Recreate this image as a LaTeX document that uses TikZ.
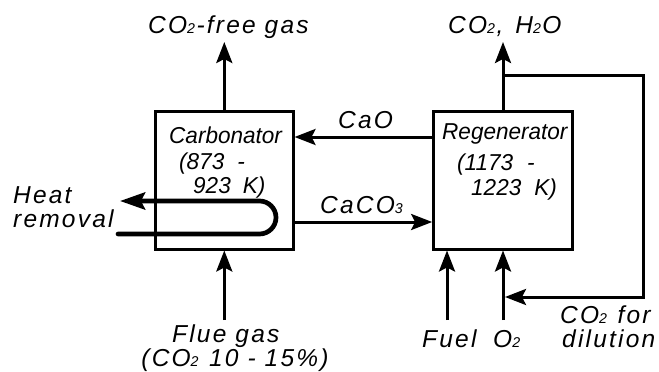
\documentclass[tikz,border=0pt]{standalone}
\usepackage{fontspec}
\setmainfont{Liberation Sans}
\newfontfamily\outfont[LetterSpace=9]{Liberation Sans}
\newfontfamily\boxfont[FakeStretch=0.98]{Liberation Sans}
\usetikzlibrary{arrows.meta}
\newcommand\sbs[1]{\raisebox{-0.04em}{\scalebox{0.58}{#1}}\kern0.06em\relax}
\begin{document}
\begin{tikzpicture}[x=1pt,y=-1pt,
  box/.style={draw, line width=3pt, inner sep=0pt},
  btxt/.style={inner sep=0pt, font={\boxfont\fontsize{23}{26}\itshape\selectfont}},
  lbl/.style={inner sep=0pt, font={\outfont\fontsize{24.5}{28}\itshape\selectfont}},
  arr/.style={line width=3pt, -{Stealth[length=21pt,width=16pt,inset=4pt]}},
  tube/.style={line width=4.7pt, line cap=round, -{Stealth[length=25pt,width=17pt,inset=4pt]}}]
\useasboundingbox (0,0) rectangle (659,372);
% boxes
\node[box, minimum width=137.5pt, minimum height=138pt] (carb) at (224.3,180) {};
\node[box, minimum width=138.7pt, minimum height=138pt] (regen) at (503,180) {};
% box texts
\node[btxt, anchor=base west] (ct1) at (169,143) {Carbonator};
\node[btxt, anchor=base west] (ct2) at (179,169) {(873\hspace{13pt}-};
\node[btxt, anchor=base west] (ct3) at (193,193) {923\hspace{12pt}K)};
\node[btxt, anchor=base west] (rt1) at (442,139) {Regenerator};
\node[btxt, anchor=base west] (rt2) at (457,170) {(1173\hspace{14pt}-};
\node[btxt, anchor=base west] (rt3) at (471,195) {1223\hspace{13pt}K)};
% labels
\node[lbl, anchor=base west] (lfree) at (148,33) {CO\sbs{2}-free gas};
\node[lbl, anchor=base west] (lexh) at (448,33) {CO\sbs{2},\hspace{12pt}H\sbs{2}O};
\node[lbl, anchor=base west] (lcao) at (338,128) {CaO};
\node[lbl, anchor=base west] (lcaco) at (320,213) {CaCO\sbs{3}};
\node[lbl, anchor=base west] (lheat1) at (13,203) {Heat};
\node[lbl, anchor=base west] (lheat2) at (13,227) {removal};
\node[lbl, anchor=base west] (lflue1) at (172,342) {Flue gas};
\node[lbl, anchor=base] (lflue2) at (235,366) {(CO\sbs{2} 10 - 15\%)};
\node[lbl, anchor=base west] (lfuel) at (422,347) {Fuel};
\node[lbl, anchor=base west] (lo2) at (493,347) {O\sbs{2}};
\node[lbl, anchor=base west] (ldil1) at (560,323) {CO\sbs{2} for};
\node[lbl, anchor=base west] (ldil2) at (562,347) {dilution};
% connectors
\coordinate (freetip) at (224.3,42);
\draw[arr] (carb.north) -- (freetip);
\coordinate (exhtip) at (503,42);
\draw[arr] (regen.north) -- (exhtip);
\coordinate (split) at (503,75);
\coordinate (rc1) at (643,75);
\coordinate (rc2) at (643,297);
\coordinate (mix) at (505,297);
\draw[arr, line join=miter] (split) -- (rc1) -- (rc2) -- (mix);
\coordinate (caoy) at (0,137);
\draw[arr] (regen.west |- caoy) -- (carb.east |- caoy);
\coordinate (cacoy) at (0,222);
\draw[arr] (carb.east |- cacoy) -- (regen.west |- cacoy);
\coordinate (fuelin) at (447,320);
\draw[arr] (fuelin) -- (fuelin |- regen.south);
\coordinate (o2in) at (503,320);
\draw[arr] (o2in) -- (regen.south);
\coordinate (fluein) at (224.3,320);
\draw[arr] (fluein) -- (carb.south);
% heat removal tube
\coordinate (hin) at (118,234);
\coordinate (hbend) at (259.5,234);
\coordinate (hout) at (120,201);
\draw[tube] (hin) -- (hbend) arc[start angle=-90, end angle=90, radius=16.5pt] -- (hout);
\end{tikzpicture}
\end{document}
